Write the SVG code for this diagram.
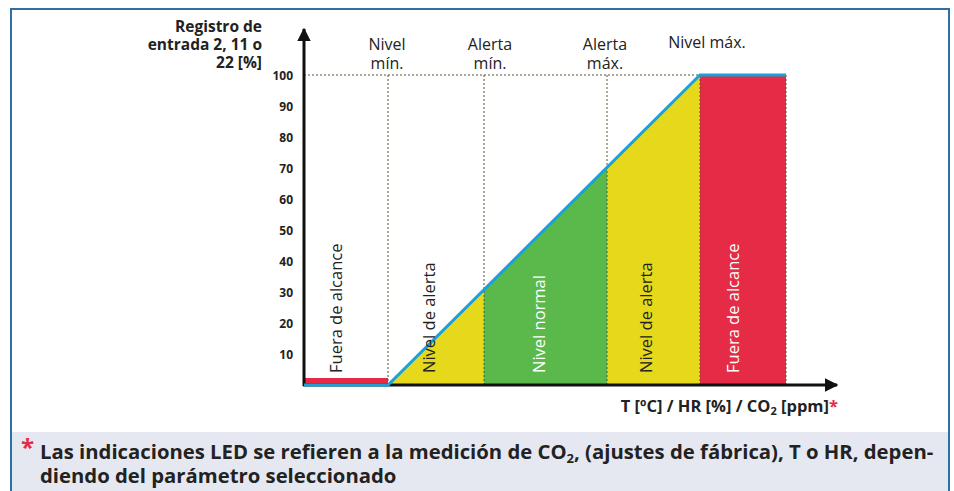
<svg xmlns="http://www.w3.org/2000/svg" width="954" height="491" viewBox="0 0 954 491">
<style>
.t{font-family:"Open Sans","Noto Sans",sans-serif;font-size:16px;fill:#222}
.b{font-family:"Open Sans","Noto Sans",sans-serif;font-weight:bold;fill:#222}
.red{fill:#e52b45}
.tick{font-size:12px;text-anchor:end}
.v{font-family:"Open Sans","Noto Sans",sans-serif;font-size:16.5px}
.dk{fill:#222}
.wh{fill:#fff}
.dl{stroke:#5a5030;stroke-width:1;stroke-dasharray:2,2;fill:none}
</style>
<defs>
<marker id="ah" viewBox="0 0 10 10" refX="9" refY="5" markerWidth="4.5" markerHeight="4.5" orient="auto" markerUnits="strokeWidth"><path d="M0,0 L10,5 L0,10 z" fill="#111"/></marker>
</defs>
<rect x="0" y="0" width="954" height="491" fill="#fff"/>
<rect x="12" y="432" width="936" height="59" fill="#e6e8f1"/>
<path d="M11,491 V9 H949 V491" fill="none" stroke="#2f6fa8" stroke-width="2"/>

<g id="zones">
<rect x="304" y="378" width="84" height="7" fill="#e52b45"/>
<polygon points="388,385 484,385 484,290" fill="#e6d81a"/>
<polygon points="484,385 484,290 607,167 607,385" fill="#5ab94a"/>
<polygon points="607,385 607,167 700,75 700,385" fill="#e6d81a"/>
<rect x="700" y="75" width="86" height="310" fill="#e52b45"/>
</g>

<g id="guides">
<line class="dl" x1="304" y1="75" x2="700" y2="75"/>
<line class="dl" x1="388" y1="75" x2="388" y2="385"/>
<line class="dl" x1="484" y1="75" x2="484" y2="385"/>
<line class="dl" x1="607" y1="75" x2="607" y2="385"/>
<line class="dl" x1="700" y1="75" x2="700" y2="385"/>
<line class="dl" x1="786" y1="75" x2="786" y2="385"/>
</g>

<g id="connectors">
<line x1="304" y1="386" x2="304" y2="29" stroke="#111" stroke-width="3" marker-end="url(#ah)"/>
<line x1="303" y1="385" x2="837" y2="385" stroke="#111" stroke-width="3" marker-end="url(#ah)"/>
<polyline points="304,385 388,385 700,75 786,75" fill="none" stroke="#1ba1d9" stroke-width="3"/>
</g>

<g id="y-axis-labels">
<text class="b" font-size="15.5" text-anchor="end"><tspan x="262" y="32">Registro de</tspan><tspan x="262" y="50">entrada 2, 11 o</tspan><tspan x="262" y="68">22 [%]</tspan></text>
<text class="b tick" x="293" y="80">100</text>
<text class="b tick" x="293" y="111">90</text>
<text class="b tick" x="293" y="142">80</text>
<text class="b tick" x="293" y="173">70</text>
<text class="b tick" x="293" y="204">60</text>
<text class="b tick" x="293" y="235">50</text>
<text class="b tick" x="293" y="266">40</text>
<text class="b tick" x="293" y="297">30</text>
<text class="b tick" x="293" y="328">20</text>
<text class="b tick" x="293" y="359">10</text>
</g>

<g id="top-labels">
<text class="t" text-anchor="middle"><tspan x="387" y="50">Nivel</tspan><tspan x="387" y="69">mín.</tspan></text>
<text class="t" text-anchor="middle"><tspan x="490" y="50">Alerta</tspan><tspan x="490" y="69">mín.</tspan></text>
<text class="t" text-anchor="middle"><tspan x="605" y="50">Alerta</tspan><tspan x="605" y="69">máx.</tspan></text>
<text class="t" text-anchor="middle" x="707" y="48">Nivel máx.</text>
</g>

<g id="zone-labels">
<text class="v dk" transform="translate(342,373) rotate(-90)">Fuera de alcance</text>
<text class="v dk" transform="translate(435,373) rotate(-90)">Nivel de alerta</text>
<text class="v wh" transform="translate(545,373) rotate(-90)">Nivel normal</text>
<text class="v dk" transform="translate(652,373) rotate(-90)">Nivel de alerta</text>
<text class="v wh" transform="translate(739,373) rotate(-90)">Fuera de alcance</text>
</g>

<g id="x-axis-label">
<text class="b" font-size="16.5" text-anchor="end" x="838" y="412">T [ºC] / HR [%] / CO<tspan font-size="11" dy="3">2</tspan><tspan dy="-3"> [ppm]</tspan><tspan class="red">*</tspan></text>
</g>

<g id="footnote">
<text class="b red" font-size="24" x="21" y="456">*</text>
<text class="b" font-size="20.3"><tspan x="40" y="459">Las indicaciones LED se refieren a la medición de CO<tspan font-size="13" dy="4">2</tspan><tspan dy="-4">, (ajustes de fábrica), T o HR, depen-</tspan></tspan><tspan x="40" y="483">diendo del parámetro seleccionado</tspan></text>
</g>
</svg>
